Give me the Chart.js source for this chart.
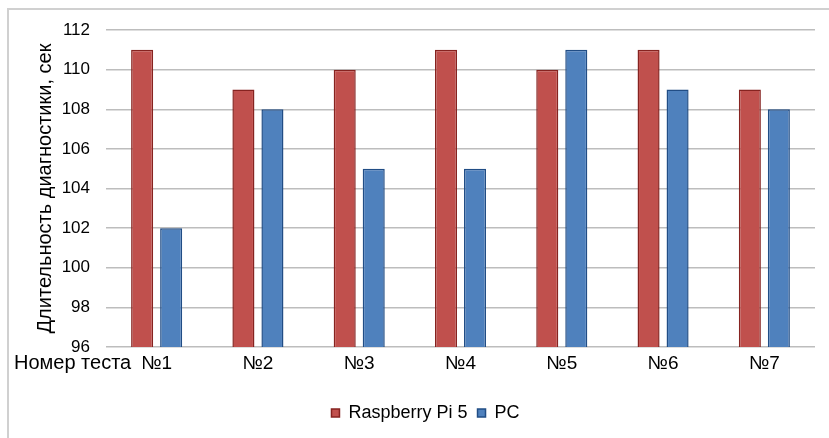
<!DOCTYPE html>
<html>
<head>
<meta charset="utf-8">
<script src="https://cdn.jsdelivr.net/npm/chart.js@4/dist/chart.umd.min.js"></script>
<style>
    html, body { margin: 0; padding: 0; background: #fff; }
    #wrap { width: 829px; height: 438px; position: relative; }
</style>
</head>
<body>
<div id="wrap"><canvas id="barChart"></canvas></div>
<script>
const categories = ['№1', '№2', '№3', '№4', '№5', '№6', '№7'];
const raspberryValues = [111, 109, 110, 111, 110, 111, 109];
const pcValues = [102, 108, 105, 105, 111, 109, 108];
const yTicks = [96, 98, 100, 102, 104, 106, 108, 110, 112];

// рамка вокруг диаграммы и подпись "Номер теста" слева от категорий
const extrasPlugin = {
    id: 'extras',
    beforeDraw(chart) {
        const ctx = chart.ctx;
        ctx.save();
        ctx.strokeStyle = '#d0d0d0';
        ctx.lineWidth = 2;
        ctx.beginPath();
        ctx.moveTo(8, 438);
        ctx.lineTo(8, 9);
        ctx.lineTo(829, 9);
        ctx.stroke();
        ctx.restore();
    },
    afterDraw(chart) {
        const ctx = chart.ctx;
        ctx.save();
        ctx.fillStyle = '#000';
        ctx.font = '20px "Liberation Sans", Arial, sans-serif';
        ctx.textAlign = 'left';
        ctx.textBaseline = 'middle';
        ctx.fillText('Номер теста', 14, chart.chartArea.bottom + 16);
        ctx.restore();
    }
};

const ctx = document.getElementById('barChart').getContext('2d');
new Chart(ctx, {
    type: 'bar',
    data: {
        labels: categories,
        datasets: [
            {
                label: 'Raspberry Pi 5',
                data: raspberryValues,
                backgroundColor: '#c0504d',
                borderColor: '#862320',
                borderWidth: 1.5,
                borderSkipped: false
            },
            {
                label: 'PC',
                data: pcValues,
                backgroundColor: '#4f81bd',
                borderColor: '#214d85',
                borderWidth: 1.5,
                borderSkipped: false
            }
        ]
    },
    options: {
        responsive: true,
        maintainAspectRatio: false,
        animation: false,
        categoryPercentage: 0.573,
        barPercentage: 0.76,
        layout: {
            padding: { top: 30, right: 14, bottom: 6, left: 36 }
        },
        font: { family: '"Liberation Sans", Arial, sans-serif', size: 16 },
        plugins: {
            legend: {
                position: 'bottom',
                labels: {
                    color: '#000',
                    boxWidth: 8,
                    boxHeight: 8,
                    padding: 10,
                    font: { size: 18 }
                }
            },
            tooltip: { enabled: false }
        },
        scales: {
            x: {
                grid: { display: false, drawTicks: false },
                border: { display: false },
                ticks: { color: '#000', padding: 5, font: { size: 19 } },
                afterFit(scale) { scale.height = 47; }
            },
            y: {
                min: 96,
                max: 112,
                afterBuildTicks(scale) {
                    scale.ticks = yTicks.map(v => ({ value: v }));
                },
                grid: { color: '#bdbdbd', lineWidth: 1.5, drawTicks: false },
                border: { display: false },
                ticks: { color: '#000', padding: 16, font: { size: 17 } },
                title: {
                    display: true,
                    text: 'Длительность диагностики, сек',
                    color: '#000',
                    font: { size: 20 },
                    padding: { top: -3, bottom: 0 }
                },
                afterFit(scale) { scale.width = 70; }
            }
        }
    },
    plugins: [extrasPlugin]
});
</script>
</body>
</html>
